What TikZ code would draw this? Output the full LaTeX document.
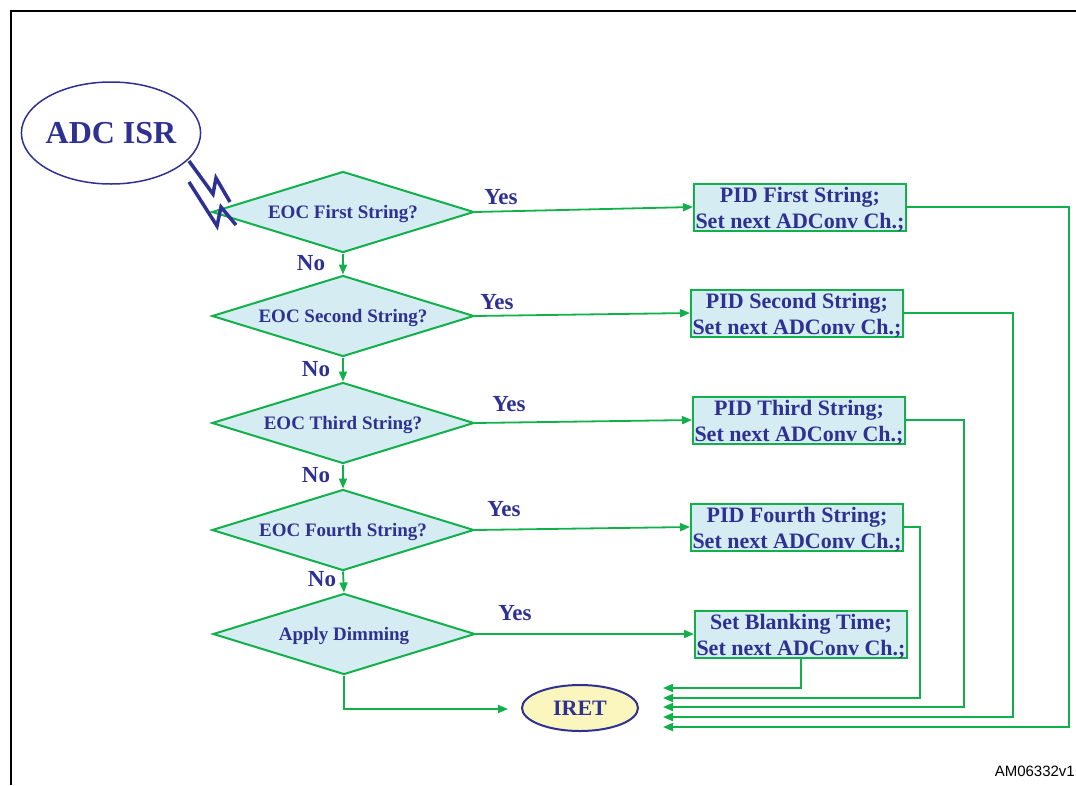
\documentclass[tikz,border=0pt]{standalone}
\usepackage{fontspec}
\setmainfont{Liberation Serif}
\newfontfamily\labelsans{Liberation Sans}
\usetikzlibrary{shapes.geometric,arrows.meta,calc}
\definecolor{txtblue}{HTML}{2E3192}
\definecolor{lgreen}{HTML}{12B04B}
\definecolor{lblue}{HTML}{D5ECF2}
\definecolor{lyellow}{HTML}{FAF6BE}
\begin{document}
\begin{tikzpicture}[x=1pt,y=-1pt,
  dec/.style={diamond, draw=lgreen, line width=2pt, fill=lblue, aspect=3.23,
    minimum width=262pt, minimum height=81pt, inner sep=0pt,
    font=\fontsize{19}{22}\selectfont\bfseries, text=txtblue,
    execute at begin node={\rule{0pt}{17pt}}},
  pbox/.style={rectangle, draw=lgreen, line width=2pt, fill=lblue,
    minimum width=212pt, minimum height=47pt, inner sep=0pt},
  ptext/.style={inner sep=0pt, align=center, yshift=-3pt,
    font=\fontsize{22}{26}\selectfont\bfseries, text=txtblue},
  flow/.style={draw=lgreen, line width=1.8pt, -{Triangle[length=10pt,width=8pt]}},
  lbl/.style={font=\fontsize{23}{26}\selectfont\bfseries, text=txtblue, inner sep=0pt}]
\useasboundingbox (0,0) rectangle (1076,785);
% frame
\draw[line width=2pt] (10.5,785) -- (10.5,11) -- (1076,11);
% start
\node[ellipse, draw=txtblue, line width=1.5pt, inner xsep=-2pt, minimum height=102pt,
  font=\fontsize{32}{36}\selectfont\bfseries, text=txtblue] (isr) at (111,133) {ADC ISR};
% decisions
\node[dec] (d1) at (343,212) {EOC First String?};
\node[dec] (d2) at (343,316) {EOC Second String?};
\node[dec] (d3) at (343,423) {EOC Third String?};
\node[dec] (d4) at (343,530) {EOC Fourth String?};
\node[dec] (d5) at (344,634) {Apply Dimming};
% process boxes
\node[pbox] (b1) at (800,207) {};
\node[pbox] (b2) at (797,313) {};
\node[pbox] (b3) at (799,420) {};
\node[pbox] (b4) at (797,527) {};
\node[pbox] (b5) at (801,634) {};
\node[ptext] (t1) at (b1.center) {PID First String;\\Set next ADConv Ch.;};
\node[ptext] (t2) at (b2.center) {PID Second String;\\Set next ADConv Ch.;};
\node[ptext] (t3) at (b3.center) {PID Third String;\\Set next ADConv Ch.;};
\node[ptext] (t4) at (b4.center) {PID Fourth String;\\Set next ADConv Ch.;};
\node[ptext] (t5) at (b5.center) {Set Blanking Time;\\Set next ADConv Ch.;};
% end
\node[ellipse, draw=txtblue, line width=2pt, fill=lyellow, minimum width=116pt, minimum height=46pt,
  font=\fontsize{22}{26}\selectfont\bfseries, text=txtblue] (iret) at (580,708) {IRET};
% lightning
\draw[txtblue, line width=3.5pt, miter limit=4] (189,161) -- (213,194) -- (216,178) -- (230,202);
\draw[txtblue, line width=3.5pt, miter limit=4] (189,182) -- (217,226) -- (221,207) -- (236,225);
% No arrows
\draw[flow] (d1.south) -- (d2.north);
\draw[flow] (d2.south) -- (d3.north);
\draw[flow] (d3.south) -- (d4.north);
\draw[flow] (d4.south) -- (d5.north);
% Yes arrows
\draw[flow] (d1.east) -- (b1.west);
\draw[flow] (d2.east) -- (b2.west);
\draw[flow] (d3.east) -- (b3.west);
\draw[flow] (d4.east) -- (b4.west);
\draw[flow] (d5.east) -- (b5.west);
% labels
\node[lbl] (n1) at (311,263) {No};
\node[lbl] (n2) at (316,369) {No};
\node[lbl] (n3) at (316,475) {No};
\node[lbl] (n4) at (322,579) {No};
\node[lbl] (y1) at (501,197) {Yes};
\node[lbl] (y2) at (497,302) {Yes};
\node[lbl] (y3) at (509,404) {Yes};
\node[lbl] (y4) at (504,509) {Yes};
\node[lbl] (y5) at (515,613) {Yes};
% returns
\coordinate (r1) at (663,727);
\coordinate (r2) at (663,717);
\coordinate (r3) at (663,707);
\coordinate (r4) at (663,698);
\coordinate (r5) at (663,688);
\coordinate (c1) at (1069,727);
\coordinate (c2) at (1013,717);
\coordinate (c3) at (964,707);
\coordinate (c4) at (920,698);
\draw[flow] (b1.east) -| (c1) -- (r1);
\draw[flow] (b2.east) -| (c2) -- (r2);
\draw[flow] (b3.east) -| (c3) -- (r3);
\draw[flow] (b4.east) -| (c4) -- (r4);
\draw[flow] (b5.south) |- (r5);
\coordinate (ie) at (508,709);
\draw[flow] (d5.south) |- (ie);
% code
\node[anchor=east, font=\labelsans\fontsize{15}{18}\selectfont, inner sep=0pt] (am) at (1075,771) {AM06332v1};
\end{tikzpicture}
\end{document}
